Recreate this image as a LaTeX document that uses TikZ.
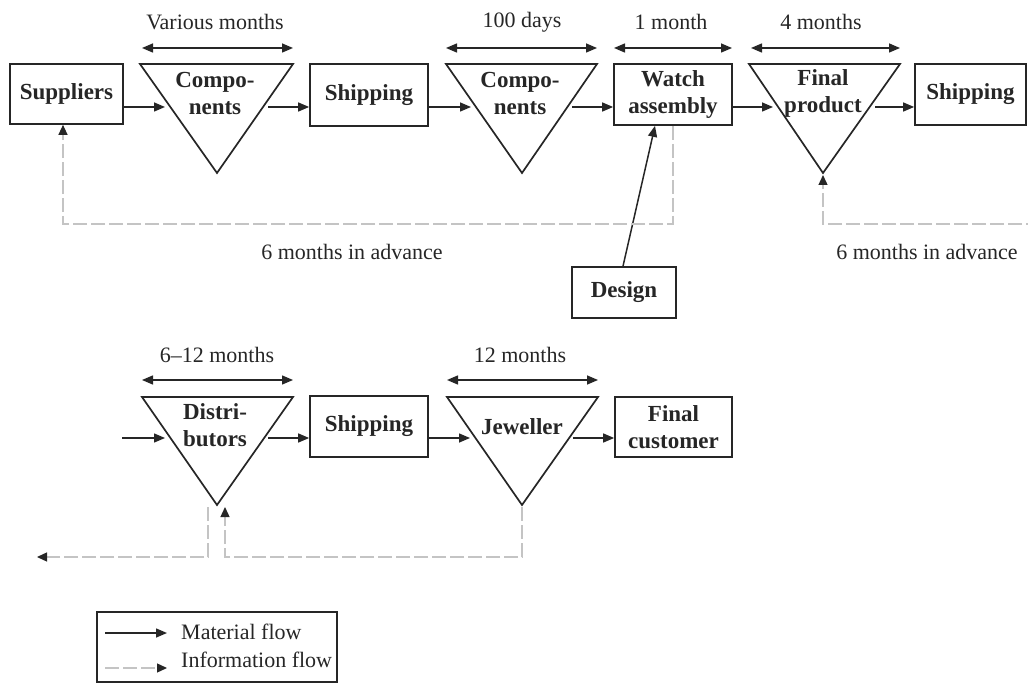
\documentclass[tikz,border=0pt]{standalone}
\usepackage{fontspec}
\setmainfont{Liberation Serif}
\usetikzlibrary{arrows.meta}
\definecolor{ink}{HTML}{262626}
\definecolor{infogray}{HTML}{C4C4C4}
\begin{document}
\begin{tikzpicture}[x=1pt,y=-1pt,
  font=\fontsize{22}{26}\selectfont,
  box/.style={draw=ink,line width=1.7pt,font=\fontsize{23}{27}\selectfont\bfseries,align=center,inner sep=0pt,text=ink},
  tri/.style={draw=ink,line width=1.7pt,line join=miter},
  lbl/.style={font=\fontsize{23}{27}\selectfont\bfseries,align=center,text=ink,inner sep=0pt},
  tm/.style={text=ink,inner sep=0pt},
  mat/.style={draw=ink,line width=1.5pt,-{Triangle[length=11pt,width=9pt]}},
  dur/.style={draw=ink,line width=1.5pt,{Triangle[length=11pt,width=9pt]}-{Triangle[length=11pt,width=9pt]}},
  info/.style={draw=infogray,line width=1.3pt,dash pattern=on 14pt off 4pt,-{Triangle[ink,length=10pt,width=9pt]}},
]
\useasboundingbox (0,0) rectangle (1028,684);

% ---------- top row ----------
\node[box,minimum width=113pt,minimum height=60pt] (sup) at (66.5,94) {Suppliers};
\path[tri] (140,64) -- (293,64) -- (217,173) -- cycle;
\node[lbl] (t1) at (215,93.5) {Compo-\\nents};
\node[box,minimum width=118pt,minimum height=62pt] (ship1) at (369,95) {Shipping};
\path[tri] (446,64) -- (597,64) -- (522,173) -- cycle;
\node[lbl] (t2) at (520,93.5) {Compo-\\nents};
\node[box,minimum width=118pt,minimum height=61pt] (watch) at (673,94.5) {Watch\\assembly};
\path[tri] (749,64) -- (900,64) -- (823,173) -- cycle;
\node[lbl] (t3) at (823,93.5) {Final\\product};
\node[box,minimum width=111pt,minimum height=61pt] (ship2) at (970.5,94.5) {Shipping};
\node[box,minimum width=104pt,minimum height=51pt] (des) at (624,292.5) {Design};

\coordinate (t1in) at (165,107);
\coordinate (t1out) at (268,107);
\coordinate (t2in) at (471,107);
\coordinate (t2out) at (572,107);
\coordinate (t3in) at (773,107);
\coordinate (t3out) at (875,107);
\coordinate (t3apex) at (823,175);

\draw[mat] (sup.east |- t1in) -- (t1in);
\draw[mat] (t1out) -- (ship1.west |- t1out);
\draw[mat] (ship1.east |- t2in) -- (t2in);
\draw[mat] (t2out) -- (watch.west |- t2out);
\draw[mat] (watch.east |- t3in) -- (t3in);
\draw[mat] (t3out) -- (ship2.west |- t3out);
\draw[mat] ([xshift=-1pt]des.north) -- ([xshift=-18pt]watch.south);

% durations
\coordinate (d1a) at (142,48); \coordinate (d1b) at (293,48);
\coordinate (d2a) at (446,48); \coordinate (d2b) at (597,48);
\coordinate (d3a) at (614,48); \coordinate (d3b) at (732,48);
\coordinate (d4a) at (751,48); \coordinate (d4b) at (900,48);
\draw[dur] (d1a) -- (d1b);
\draw[dur] (d2a) -- (d2b);
\draw[dur] (d3a) -- (d3b);
\draw[dur] (d4a) -- (d4b);
\node[tm] (l1) at (215,22) {Various months};
\node[tm] (l2) at (522,22) {100 days};
\node[tm] (l3) at (671,22) {1 month};
\node[tm] (l4) at (821,22) {4 months};

% information flows top
\coordinate (c1) at (673,224);
\coordinate (c2) at (63,224);
\draw[info] (watch.south) -- (c1) -- (c2) -- (c2 |- sup.south);
\node[tm] (adv1) at (352,252) {6 months in advance};
\coordinate (c3) at (1040,224);
\coordinate (c4) at (823,224);
\draw[info] (c3) -- (c4) -- (t3apex);
\node[tm] (adv2) at (927,252) {6 months in advance};

% ---------- bottom row ----------
\path[tri] (142,397) -- (293,397) -- (217,505) -- cycle;
\node[lbl] (t4) at (215,425) {Distri-\\butors};
\node[box,minimum width=118pt,minimum height=61pt] (ship3) at (369,426.5) {Shipping};
\path[tri] (447,397) -- (598,397) -- (522,505) -- cycle;
\node[lbl] (t5) at (522,427) {Jeweller};
\node[box,minimum width=117pt,minimum height=60pt] (cust) at (673.5,427) {Final\\customer};

\coordinate (b0) at (122,438);
\coordinate (t4in) at (165,438);
\coordinate (t4out) at (268,438);
\coordinate (t5in) at (470,438);
\coordinate (t5out) at (573,438);
\draw[mat] (b0) -- (t4in);
\draw[mat] (t4out) -- (ship3.west |- t4out);
\draw[mat] (ship3.east |- t5in) -- (t5in);
\draw[mat] (t5out) -- (cust.west |- t5out);

\coordinate (d5a) at (142,380); \coordinate (d5b) at (293,380);
\coordinate (d6a) at (447,380); \coordinate (d6b) at (598,380);
\draw[dur] (d5a) -- (d5b);
\draw[dur] (d6a) -- (d6b);
\node[tm] (l5) at (217,355) {6–12 months};
\node[tm] (l6) at (520,355) {12 months};

\coordinate (j0) at (522,507);
\coordinate (j1) at (522,557);
\coordinate (j2) at (225,557);
\coordinate (j3) at (225,507);
\draw[info] (j0) -- (j1) -- (j2) -- (j3);
\coordinate (k0) at (208,507);
\coordinate (k1) at (208,557);
\coordinate (k2) at (37,557);
\draw[info] (k0) -- (k1) -- (k2);

% ---------- legend ----------
\node[draw=ink,line width=1.4pt,minimum width=240pt,minimum height=70pt,inner sep=0pt] (leg) at (217,647) {};
\coordinate (m0) at (105,633); \coordinate (m1) at (167,633);
\coordinate (i0) at (105,668); \coordinate (i1) at (167,668);
\draw[mat] (m0) -- (m1);
\draw[info] (i0) -- (i1);
\node[tm,anchor=west] (lm) at (181,632) {Material flow};
\node[tm,anchor=west] (li) at (181,660) {Information flow};
\end{tikzpicture}
\end{document}
